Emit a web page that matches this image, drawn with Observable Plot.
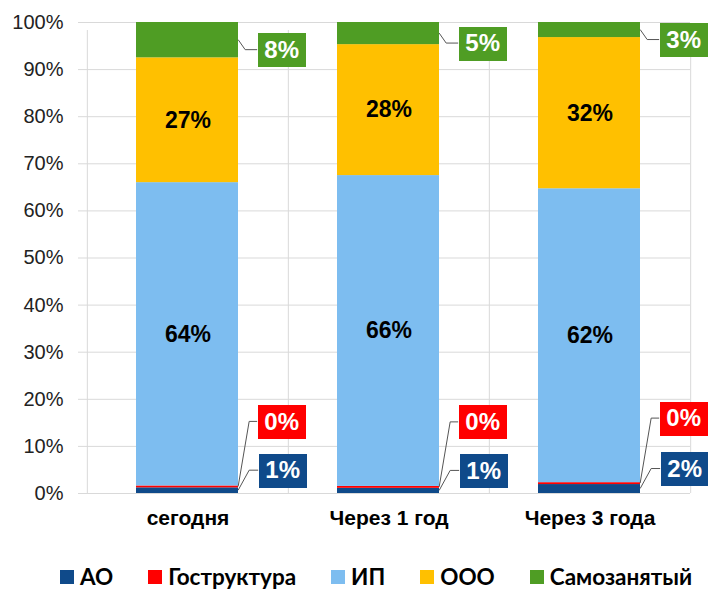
<!DOCTYPE html>
<html>
<head>
<meta charset="utf-8">
<script src="https://cdn.jsdelivr.net/npm/d3@7"></script>
<script src="https://cdn.jsdelivr.net/npm/@observablehq/plot@0.6"></script>
<style>
  html, body { margin: 0; padding: 0; background: #fff; overflow: hidden; }
  #chart { width: 708px; }
  .legend { display: flex; align-items: center; height: 30px; margin-top: 22px; padding-left: 60px;
    font-family: Lato, "Open Sans", sans-serif; font-weight: 700; font-size: 22.5px; line-height: 26px; color: #000; }
  .legend .item { display: flex; align-items: center; margin-right: 35px; }
  .legend .sw { width: 14px; height: 14px; margin-right: 6px; }
</style>
</head>
<body>
<div id="chart"></div>
<script>
// ---- data ----
const categories = ["сегодня", "Через 1 год", "Через 3 года"];
const seriesNames = ["АО", "Гоструктура", "ИП", "ООО", "Самозанятый"];
const seriesColors = ["#0f4a8a", "#ff0000", "#7dbdf0", "#ffc000", "#4f9d24"];
const valuesAO = [1.2, 1.1, 1.9];
const valuesGos = [0.4, 0.4, 0.4];
const valuesIP = [64.4, 66.0, 62.4];
const valuesOOO = [26.5, 27.8, 32.1];
const valuesSelf = [7.5, 4.7, 3.2];
const yTicks = [0, 10, 20, 30, 40, 50, 60, 70, 80, 90, 100];

// ---- build stacked table ----
const seriesValues = [valuesAO, valuesGos, valuesIP, valuesOOO, valuesSelf];
const rows = [];
categories.forEach((cat, ci) => {
  let acc = 0;
  seriesNames.forEach((s, si) => {
    const v = seriesValues[si][ci];
    rows.push({cat, series: s, value: v, y1: acc, y2: acc + v, mid: acc + v / 2});
    acc += v;
  });
});

// style options
const W = 708, H = 540;
const mL = 86, mR = 18, mT = 22, mB = 47;
const step = (W - mL - mR) / categories.length;
const barInset = 50;
const barEdge = step / 2 - barInset; // from band center to bar's right edge
const calloutSeries = {
  "Самозанятый": {dx: 43, dy: 10, elbow: 7},
  "Гоструктура": {dx: 43, dy: -65, elbow: 11},
  "АО": {dx: 44, dy: -20, elbow: 11}
};
const boxW = 48, boxH = 34;
const boxSymbol = {draw(ctx) { ctx.rect(-boxW / 2, -boxH / 2, boxW, boxH); }};
const inside = rows.filter(d => d.series === "ИП" || d.series === "ООО");
const grid = "#d9d9d9";
const fmt = v => Math.round(v) + "%";
const FF = "Liberation Sans, Arial, sans-serif";

const marks = [
  Plot.ruleY(yTicks, {y: d => d, stroke: grid, strokeWidth: 1, insetLeft: -8, strokeOpacity: 1}),
  Plot.ruleX(categories, {x: d => d, dx: -step / 2, y1: 0, y2: 100, stroke: grid, insetBottom: -8, strokeOpacity: 1}),
  Plot.ruleX(categories.slice(-1), {x: d => d, dx: step / 2, y1: 0, y2: 100, stroke: grid, insetBottom: -8, strokeOpacity: 1}),
  Plot.barY(rows, {x: "cat", y1: "y1", y2: "y2", fill: "series", insetLeft: 49, insetRight: 50}),
  Plot.text(inside, {x: "cat", y: "mid", text: d => fmt(d.value), fill: "#000",
    fontSize: 23, fontWeight: "bold", fontFamily: FF}),
  Plot.axisY(yTicks, {tickSize: 0, tickPadding: 23, tickFormat: d => d + "%", fontSize: 20,
    fontFamily: FF, fill: "#222"}),
  Plot.axisX({tickSize: 0, tickPadding: 17, fontSize: 21, fontWeight: "bold",
    fontFamily: FF, fill: "#000"})
];
for (const [s, o] of Object.entries(calloutSeries)) {
  const sub = rows.filter(d => d.series === s);
  marks.push(Plot.dot(sub, {x: "cat", y: "mid", symbol: boxSymbol, r: 10, fill: "series",
    stroke: "none", strokeWidth: 0, dx: barEdge + o.dx, dy: o.dy}));
  marks.push(Plot.text(sub, {x: "cat", y: "mid", text: d => fmt(d.value), fill: "#fff",
    fontSize: 24, fontWeight: "bold", fontFamily: FF, dx: barEdge + o.dx, dy: o.dy}));
}

const plot = Plot.plot({
  width: W, height: H,
  marginLeft: mL, marginRight: mR, marginTop: mT, marginBottom: mB,
  x: {type: "band", domain: categories, padding: 0, label: null},
  y: {domain: [0, 100], label: null},
  color: {domain: seriesNames, range: seriesColors},
  style: {fontFamily: FF, background: "#fff", overflow: "visible"},
  marks
});

// leader lines drawn through the plot's own scales
const xs = plot.scale("x"), ys = plot.scale("y");
const g = d3.select(plot).append("g").attr("fill", "none").attr("stroke", "#555").attr("stroke-width", 1);
for (const [s, o] of Object.entries(calloutSeries)) {
  rows.filter(d => d.series === s).forEach(d => {
    const x0 = xs.apply(d.cat) + xs.bandwidth / 2 + barEdge;
    const y0 = ys.apply(d.mid);
    const pts = [[x0, y0], [x0 + o.elbow, y0 + o.dy], [x0 + o.dx - boxW / 2, y0 + o.dy]];
    g.append("path").attr("d", d3.line()(pts));
  });
}
d3.select(plot).selectAll("g[aria-label='dot'] path").attr("stroke", "none").attr("shape-rendering", "crispEdges");
d3.select(plot).selectAll("g[aria-label='dot'], g[aria-label='text']").raise();

document.getElementById("chart").appendChild(plot);

// legend
const leg = document.createElement("div");
leg.className = "legend";
seriesNames.forEach((s, i) => {
  const it = document.createElement("div"); it.className = "item";
  const sw = document.createElement("div"); sw.className = "sw"; sw.style.background = seriesColors[i];
  const t = document.createElement("span"); t.textContent = s;
  it.appendChild(sw); it.appendChild(t); leg.appendChild(it);
});
document.getElementById("chart").appendChild(leg);
</script>
</body>
</html>
